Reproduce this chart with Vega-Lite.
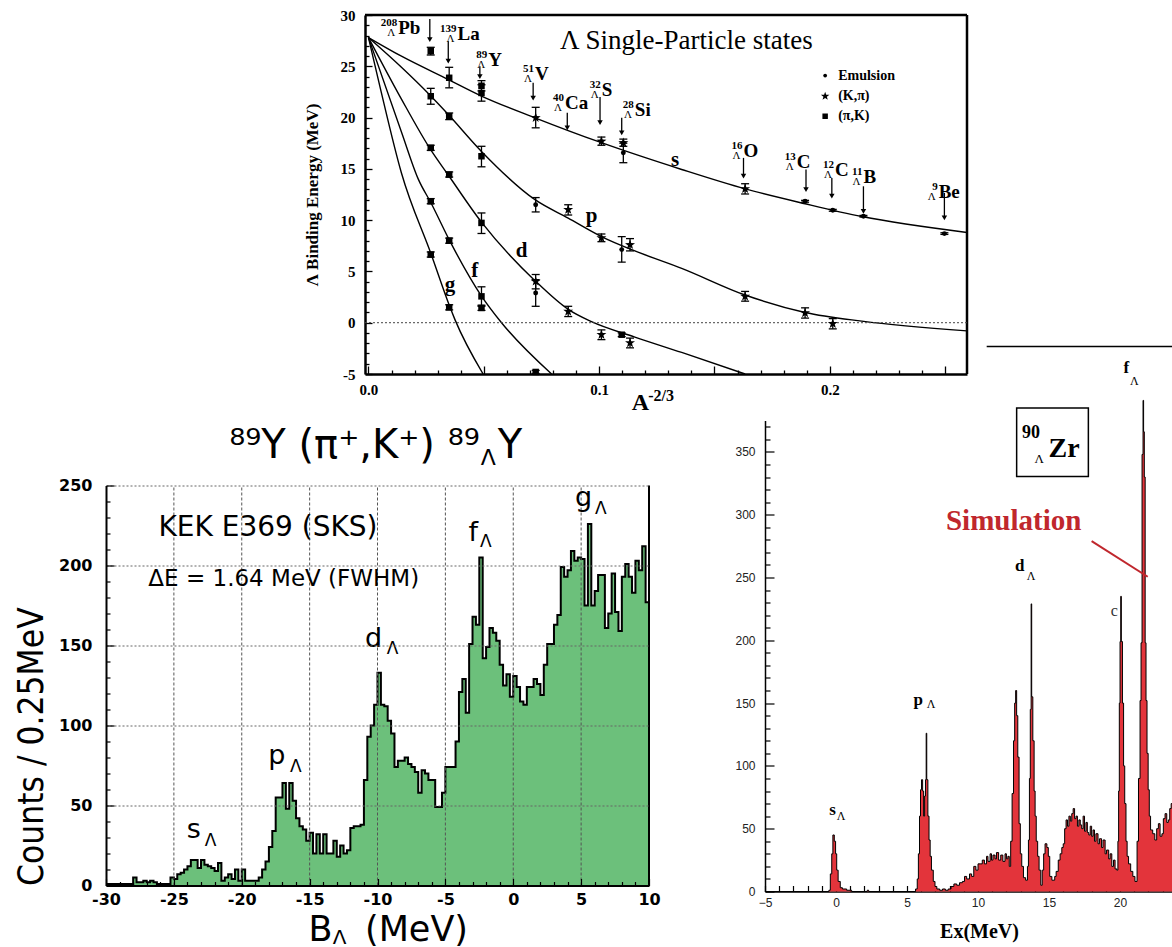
{
"$schema": "https://vega.github.io/schema/vega-lite/v6.json",
"background": "white",
"padding": {"left": 14, "top": 8, "right": 0, "bottom": 0},
"bounds": "flush",
"align": "each",
"columns": 2,
"spacing": {"row": 46.5, "column": 116},
"datasets": {
"curves": [
{"c":"s","x":0,"y":27.8},{"c":"s","x":0.0143,"y":25.98},{"c":"s","x":0.0346,"y":23.71},{"c":"s","x":0.049,"y":22.1},{"c":"s","x":0.0722,"y":19.98},{"c":"s","x":0.101,"y":17.55},{"c":"s","x":0.1358,"y":14.94},{"c":"s","x":0.1633,"y":13.05},{"c":"s","x":0.1893,"y":11.6},{"c":"s","x":0.2139,"y":10.35},{"c":"s","x":0.2595,"y":8.8},
{"c":"p","x":0,"y":27.8},{"c":"p","x":0.0143,"y":24.9},{"c":"p","x":0.0266,"y":22.2},{"c":"p","x":0.0346,"y":20.3},{"c":"p","x":0.049,"y":16.7},{"c":"p","x":0.0722,"y":12.0},{"c":"p","x":0.0866,"y":10.2},{"c":"p","x":0.101,"y":8.4},{"c":"p","x":0.1155,"y":7.0},{"c":"p","x":0.1358,"y":5.3},{"c":"p","x":0.1633,"y":2.7},{"c":"p","x":0.1893,"y":1.0},{"c":"p","x":0.2139,"y":0.15},{"c":"p","x":0.2595,"y":-0.8},
{"c":"d","x":0,"y":27.8},{"c":"d","x":0.0143,"y":21.8},{"c":"d","x":0.0266,"y":17.0},{"c":"d","x":0.0346,"y":14.4},{"c":"d","x":0.049,"y":9.8},{"c":"d","x":0.0722,"y":4.1},{"c":"d","x":0.0866,"y":1.3},{"c":"d","x":0.0967,"y":0.1},{"c":"d","x":0.1155,"y":-1.4},{"c":"d","x":0.1358,"y":-2.9},{"c":"d","x":0.1633,"y":-5.0},
{"c":"f","x":0,"y":27.8},{"c":"f","x":0.0143,"y":18.6},{"c":"f","x":0.0216,"y":14.0},{"c":"f","x":0.0273,"y":11.6},{"c":"f","x":0.0352,"y":8.0},{"c":"f","x":0.049,"y":2.6},{"c":"f","x":0.0577,"y":0},{"c":"f","x":0.0794,"y":-5.0},
{"c":"g","x":0,"y":27.8},{"c":"g","x":0.005,"y":23.0},{"c":"g","x":0.0143,"y":14.6},{"c":"g","x":0.0273,"y":6.6},{"c":"g","x":0.0352,"y":1.6},{"c":"g","x":0.0375,"y":0.3},{"c":"g","x":0.0497,"y":-5.0}
],
"pts": [
{"x":0.027,"y":26.47,"lo":26.1,"hi":26.85,"t":"PK"},{"x":0.027,"y":22.08,"lo":21.3,"hi":22.85,"t":"PK"},{"x":0.027,"y":17.05,"lo":16.8,"hi":17.3,"t":"PK"},{"x":0.027,"y":11.84,"lo":11.6,"hi":12.1,"t":"PK"},{"x":0.027,"y":6.64,"lo":6.4,"hi":6.9,"t":"PK"},
{"x":0.035,"y":23.88,"lo":22.9,"hi":24.9,"t":"PK"},{"x":0.035,"y":20.13,"lo":19.8,"hi":20.45,"t":"PK"},{"x":0.035,"y":14.44,"lo":14.2,"hi":14.7,"t":"PK"},{"x":0.035,"y":8.0,"lo":7.75,"hi":8.25,"t":"PK"},{"x":0.035,"y":1.5,"lo":1.25,"hi":1.75,"t":"PK"},
{"x":0.049,"y":23.1,"lo":22.6,"hi":23.6,"t":"PK"},{"x":0.049,"y":22.4,"lo":21.6,"hi":23.2,"t":"PK"},{"x":0.049,"y":16.23,"lo":15.2,"hi":17.2,"t":"PK"},{"x":0.049,"y":9.73,"lo":8.7,"hi":10.7,"t":"PK"},{"x":0.049,"y":2.57,"lo":1.6,"hi":3.5,"t":"PK"},{"x":0.049,"y":1.44,"lo":1.2,"hi":1.7,"t":"PK"},
{"x":0.0725,"y":19.98,"lo":19.0,"hi":21.0,"t":"KP"},{"x":0.0725,"y":11.5,"lo":10.8,"hi":12.2,"t":"E"},{"x":0.0725,"y":4.03,"lo":3.3,"hi":4.7,"t":"KP"},{"x":0.0725,"y":2.9,"lo":1.6,"hi":4.2,"t":"E"},{"x":0.0725,"y":-4.8,"lo":-4.95,"hi":-4.65,"t":"PK"},
{"x":0.0866,"y":11.03,"lo":10.5,"hi":11.5,"t":"KP"},{"x":0.0866,"y":1.1,"lo":0.6,"hi":1.6,"t":"KP"},
{"x":0.101,"y":17.69,"lo":17.3,"hi":18.1,"t":"KP"},{"x":0.101,"y":8.27,"lo":7.9,"hi":8.65,"t":"KP"},{"x":0.101,"y":-1.17,"lo":-1.65,"hi":-0.7,"t":"KP"},
{"x":0.1105,"y":17.54,"lo":17.2,"hi":17.9,"t":"KP"},{"x":0.1105,"y":16.56,"lo":15.6,"hi":17.5,"t":"E"},{"x":0.1098,"y":7.13,"lo":5.9,"hi":8.4,"t":"E"},{"x":0.1134,"y":7.6,"lo":7.0,"hi":8.2,"t":"KP"},{"x":0.1098,"y":-1.17,"lo":-1.35,"hi":-1.0,"t":"PK"},{"x":0.1134,"y":-1.97,"lo":-2.45,"hi":-1.5,"t":"KP"},
{"x":0.1633,"y":13.05,"lo":12.55,"hi":13.55,"t":"KP"},{"x":0.1633,"y":2.57,"lo":2.1,"hi":3.05,"t":"KP"},
{"x":0.1893,"y":11.84,"lo":11.75,"hi":11.93,"t":"E"},{"x":0.1893,"y":0.95,"lo":0.45,"hi":1.45,"t":"KP"},
{"x":0.2013,"y":10.96,"lo":10.87,"hi":11.05,"t":"E"},{"x":0.2013,"y":-0.09,"lo":-0.6,"hi":0.4,"t":"KP"},
{"x":0.2146,"y":10.38,"lo":10.3,"hi":10.46,"t":"E"},{"x":0.2497,"y":8.69,"lo":8.61,"hi":8.77,"t":"E"}
],
"leg": [
{"x":0.198,"y":24.1,"t":"E","l":"Emulsion"},{"x":0.198,"y":22.08,"t":"KP","l":"(K,π)"},{"x":0.198,"y":20.13,"t":"PK","l":"(π,K)"}
],
"nuc": [
{"a":"208","el":"Pb","x":0.0129,"y":28.1},{"a":"139","el":"La","x":0.0386,"y":27.6},{"a":"89","el":"Y","x":0.0519,"y":25.0},{"a":"51","el":"V","x":0.0722,"y":23.7},{"a":"40","el":"Ca","x":0.0852,"y":20.8},{"a":"32","el":"S","x":0.1011,"y":22.1},{"a":"28","el":"Si","x":0.1155,"y":20.13},{"a":"16","el":"O","x":0.1626,"y":16.2},{"a":"13","el":"C","x":0.1857,"y":15.1},{"a":"12","el":"C","x":0.2023,"y":14.28},{"a":"11","el":"B","x":0.2146,"y":13.63},{"a":"9","el":"Be","x":0.2472,"y":12.2}
],
"arr": [
{"x":0.0266,"y1":29.6,"y2":27.6},{"x":0.0346,"y1":27.45,"y2":25.5},{"x":0.0483,"y1":25.0,"y2":24.0},{"x":0.0714,"y1":23.4,"y2":21.9},{"x":0.0862,"y1":20.46,"y2":19.0},{"x":0.1004,"y1":22.0,"y2":19.5},{"x":0.1098,"y1":19.98,"y2":18.5},{"x":0.1626,"y1":16.07,"y2":14.28},{"x":0.1897,"y1":14.93,"y2":12.98},{"x":0.2009,"y1":14.12,"y2":12.33},{"x":0.2146,"y1":13.3,"y2":10.86},{"x":0.2497,"y1":12.66,"y2":10.22}
],
"frame": [
{"x":-0.0015,"x2":0.2595,"y":30,"y2":30},{"x":0.2595,"x2":0.2595,"y":-5,"y2":30}
],
"bl": [
{"b":-30,"n":1},{"b":-29.75,"n":1},{"b":-29.5,"n":1},{"b":-29.25,"n":1},{"b":-29,"n":1},{"b":-28.75,"n":1},{"b":-28.5,"n":1},{"b":-28.25,"n":1},{"b":-28,"n":5},{"b":-27.75,"n":2},{"b":-27.5,"n":2},{"b":-27.25,"n":3},{"b":-27,"n":2},{"b":-26.75,"n":3},{"b":-26.5,"n":2},{"b":-26.25,"n":1},{"b":-26,"n":1},{"b":-25.75,"n":1},{"b":-25.5,"n":1},{"b":-25.25,"n":5},
{"b":-25,"n":4},{"b":-24.75,"n":7},{"b":-24.5,"n":8},{"b":-24.25,"n":10},{"b":-24,"n":12},{"b":-23.75,"n":16},{"b":-23.5,"n":16},{"b":-23.25,"n":11},{"b":-23,"n":16},{"b":-22.75,"n":13},{"b":-22.5,"n":12},{"b":-22.25,"n":11},{"b":-22,"n":9},{"b":-21.75,"n":14},{"b":-21.5,"n":3},{"b":-21.25,"n":5},{"b":-21,"n":7},{"b":-20.75,"n":4},{"b":-20.5,"n":10},{"b":-20.25,"n":3},
{"b":-20,"n":10},{"b":-19.75,"n":3},{"b":-19.5,"n":3},{"b":-19.25,"n":3},{"b":-19,"n":3},{"b":-18.75,"n":5},{"b":-18.5,"n":10},{"b":-18.25,"n":15},{"b":-18,"n":24},{"b":-17.75,"n":34},{"b":-17.5,"n":55},{"b":-17.25,"n":55},{"b":-17,"n":64},{"b":-16.75,"n":48},{"b":-16.5,"n":64},{"b":-16.25,"n":53},{"b":-16,"n":42},{"b":-15.75,"n":37},{"b":-15.5,"n":35},{"b":-15.25,"n":28},
{"b":-15,"n":33},{"b":-14.75,"n":20},{"b":-14.5,"n":32},{"b":-14.25,"n":20},{"b":-14,"n":32},{"b":-13.75,"n":20},{"b":-13.5,"n":20},{"b":-13.25,"n":28},{"b":-13,"n":18},{"b":-12.75,"n":25},{"b":-12.5,"n":20},{"b":-12.25,"n":22},{"b":-12,"n":36},{"b":-11.75,"n":37},{"b":-11.5,"n":37},{"b":-11.25,"n":38},{"b":-11,"n":66},{"b":-10.75,"n":93},{"b":-10.5,"n":100},{"b":-10.25,"n":113},
{"b":-10,"n":133},{"b":-9.75,"n":113},{"b":-9.5,"n":112},{"b":-9.25,"n":103},{"b":-9,"n":95},{"b":-8.75,"n":74},{"b":-8.5,"n":78},{"b":-8.25,"n":78},{"b":-8,"n":80},{"b":-7.75,"n":76},{"b":-7.5,"n":74},{"b":-7.25,"n":71},{"b":-7,"n":58},{"b":-6.75,"n":72},{"b":-6.5,"n":70},{"b":-6.25,"n":66},{"b":-6,"n":66},{"b":-5.75,"n":49},{"b":-5.5,"n":49},{"b":-5.25,"n":58},
{"b":-5,"n":74},{"b":-4.75,"n":74},{"b":-4.5,"n":74},{"b":-4.25,"n":90},{"b":-4,"n":121},{"b":-3.75,"n":129},{"b":-3.5,"n":108},{"b":-3.25,"n":151},{"b":-3,"n":168},{"b":-2.75,"n":163},{"b":-2.5,"n":205},{"b":-2.25,"n":142},{"b":-2,"n":149},{"b":-1.75,"n":161},{"b":-1.5,"n":158},{"b":-1.25,"n":153},{"b":-1,"n":138},{"b":-0.75,"n":125},{"b":-0.5,"n":132},{"b":-0.25,"n":118},
{"b":0,"n":131},{"b":0.25,"n":124},{"b":0.5,"n":115},{"b":0.75,"n":113},{"b":1,"n":124},{"b":1.25,"n":124},{"b":1.5,"n":129},{"b":1.75,"n":126},{"b":2,"n":119},{"b":2.25,"n":138},{"b":2.5,"n":151},{"b":2.75,"n":151},{"b":3,"n":163},{"b":3.25,"n":169},{"b":3.5,"n":199},{"b":3.75,"n":193},{"b":4,"n":197},{"b":4.25,"n":209},{"b":4.5,"n":203},{"b":4.75,"n":205},
{"b":5,"n":204},{"b":5.25,"n":175},{"b":5.5,"n":226},{"b":5.75,"n":175},{"b":6,"n":184},{"b":6.25,"n":194},{"b":6.5,"n":194},{"b":6.75,"n":161},{"b":7,"n":170},{"b":7.25,"n":195},{"b":7.5,"n":171},{"b":7.75,"n":159},{"b":8,"n":193},{"b":8.25,"n":201},{"b":8.5,"n":193},{"b":8.75,"n":183},{"b":9,"n":203},{"b":9.25,"n":197},{"b":9.5,"n":212},{"b":9.75,"n":177},{"b":10,"n":177}
],
"br": [
{"e":-5,"c":0},{"e":-0.5,"c":1},{"e":-0.4,"c":14},{"e":-0.3,"c":30},{"e":-0.22,"c":45},{"e":-0.12,"c":40},{"e":-0.03,"c":30},{"e":0.05,"c":17},{"e":0.15,"c":8},{"e":0.3,"c":3},{"e":0.45,"c":2},{"e":0.75,"c":1},{"e":1.1,"c":0},{"e":2.2,"c":1},{"e":2.3,"c":0},
{"e":5.6,"c":2},{"e":5.72,"c":10},{"e":5.8,"c":30},{"e":5.88,"c":60},{"e":5.95,"c":81},{"e":6.02,"c":89},{"e":6.1,"c":80},{"e":6.17,"c":60},{"e":6.24,"c":76},{"e":6.3,"c":89},{"e":6.35,"c":126},{"e":6.39,"c":89},{"e":6.47,"c":60},{"e":6.55,"c":41},{"e":6.63,"c":28},{"e":6.72,"c":17},{"e":6.85,"c":8},{"e":6.97,"c":4},
{"e":7.1,"c":2},{"e":7.3,"c":1},{"e":7.5,"c":2},{"e":7.7,"c":1},{"e":7.9,"c":2},{"e":8.1,"c":4},{"e":8.3,"c":6},{"e":8.5,"c":5},{"e":8.7,"c":7},{"e":8.9,"c":8},{"e":9.05,"c":12},{"e":9.2,"c":10},{"e":9.4,"c":14},{"e":9.55,"c":12},{"e":9.7,"c":20},{"e":9.85,"c":17},
{"e":10.0,"c":22},{"e":10.15,"c":22},{"e":10.3,"c":25},{"e":10.45,"c":22},{"e":10.6,"c":28},{"e":10.7,"c":24},{"e":10.85,"c":30},{"e":10.95,"c":25},{"e":11.05,"c":29},{"e":11.2,"c":26},{"e":11.3,"c":31},{"e":11.45,"c":25},{"e":11.6,"c":29},{"e":11.75,"c":24},{"e":11.9,"c":30},{"e":12.0,"c":26},{"e":12.1,"c":28},{"e":12.2,"c":20},
{"e":12.3,"c":40},{"e":12.4,"c":78},{"e":12.5,"c":120},{"e":12.58,"c":150},{"e":12.65,"c":160},{"e":12.72,"c":140},{"e":12.8,"c":107},{"e":12.89,"c":54},{"e":12.98,"c":30},{"e":13.08,"c":20},{"e":13.2,"c":11},{"e":13.35,"c":9},{"e":13.48,"c":20},{"e":13.55,"c":41},{"e":13.62,"c":90},{"e":13.68,"c":145},{"e":13.74,"c":229},{"e":13.78,"c":155},{"e":13.86,"c":120},{"e":13.95,"c":80},
{"e":14.02,"c":60},{"e":14.1,"c":40},{"e":14.2,"c":28},{"e":14.3,"c":17},{"e":14.42,"c":5},{"e":14.52,"c":17},{"e":14.62,"c":30},{"e":14.72,"c":38},{"e":14.85,"c":35},{"e":14.95,"c":28},{"e":15.05,"c":12},{"e":15.2,"c":9},{"e":15.4,"c":12},{"e":15.5,"c":16},{"e":15.65,"c":25},{"e":15.78,"c":30},{"e":15.9,"c":35},
{"e":16.0,"c":38},{"e":16.1,"c":50},{"e":16.2,"c":57},{"e":16.3,"c":52},{"e":16.4,"c":60},{"e":16.5,"c":56},{"e":16.6,"c":62},{"e":16.7,"c":66},{"e":16.8,"c":58},{"e":16.9,"c":60},{"e":17.0,"c":52},{"e":17.1,"c":57},{"e":17.2,"c":53},{"e":17.3,"c":50},{"e":17.4,"c":60},{"e":17.5,"c":48},{"e":17.6,"c":55},{"e":17.7,"c":47},{"e":17.8,"c":45},{"e":17.9,"c":52},
{"e":18.0,"c":44},{"e":18.1,"c":49},{"e":18.2,"c":40},{"e":18.3,"c":46},{"e":18.45,"c":38},{"e":18.55,"c":42},{"e":18.7,"c":35},{"e":18.8,"c":41},{"e":18.95,"c":30},{"e":19.05,"c":33},{"e":19.2,"c":26},{"e":19.3,"c":30},{"e":19.42,"c":20},{"e":19.54,"c":25},{"e":19.65,"c":18},{"e":19.77,"c":17},{"e":19.85,"c":40},{"e":19.9,"c":80},{"e":19.95,"c":150},
{"e":20.0,"c":199},{"e":20.05,"c":235},{"e":20.09,"c":199},{"e":20.17,"c":150},{"e":20.25,"c":100},{"e":20.33,"c":70},{"e":20.42,"c":40},{"e":20.5,"c":28},{"e":20.6,"c":22},{"e":20.75,"c":16},{"e":20.9,"c":12},{"e":21.05,"c":8},{"e":21.2,"c":40},{"e":21.3,"c":90},{"e":21.41,"c":152},{"e":21.48,"c":198},{"e":21.55,"c":348},{"e":21.62,"c":391},{"e":21.66,"c":366},{"e":21.71,"c":330},{"e":21.77,"c":198},{"e":21.83,"c":152},{"e":21.9,"c":110},{"e":21.98,"c":81},
{"e":22.06,"c":60},{"e":22.15,"c":49},{"e":22.3,"c":46},{"e":22.45,"c":41},{"e":22.58,"c":50},{"e":22.7,"c":54},{"e":22.82,"c":44},{"e":22.95,"c":46},{"e":23.05,"c":58},{"e":23.17,"c":62},{"e":23.29,"c":55},{"e":23.4,"c":57},{"e":23.5,"c":66},{"e":23.6,"c":70},{"e":23.7,"c":81},{"e":23.8,"c":81}
]
},
"concat": [
 {"width": 543, "height": 359,
  "layer": [
   {"data": {"name": "curves"},
    "mark": {"type": "line", "interpolate": "monotone", "color": "black", "strokeWidth": 1.4},
    "encoding": {
     "x": {"field": "x", "type": "quantitative", "scale": {"domain": [-0.0015, 0.2595], "range": [259, 861], "nice": false, "zero": false},
      "axis": {"values": [0,0.01,0.02,0.03,0.04,0.05,0.06,0.07,0.08,0.09,0.1,0.11,0.12,0.13,0.14,0.15,0.16,0.17,0.18,0.19,0.2,0.21,0.22,0.23,0.24,0.25],
       "tickCount": 1000,
       "labelExpr": "abs(datum.value*10 - round(datum.value*10)) < 1e-6 ? format(datum.value, '.1f') : ''",
       "tickSize": {"condition": {"test": "abs(datum.value*20 - round(datum.value*20)) < 1e-6", "value": -8}, "value": -4},
       "labelPadding": 16, "labelFont": "Liberation Serif", "labelFontWeight": "bold", "labelFontSize": 15, "labelColor": "black", "labelOverlap": false, "labelFlush": false,
       "domain": true, "domainColor": "black", "domainWidth": 2.5, "grid": false, "title": null, "tickColor": "black", "tickWidth": 1.3}},
     "y": {"field": "y", "type": "quantitative", "scale": {"domain": [-5, 30], "nice": false, "zero": false},
      "axis": {"values": [-5,-4,-3,-2,-1,0,1,2,3,4,5,6,7,8,9,10,11,12,13,14,15,16,17,18,19,20,21,22,23,24,25,26,27,28,29,30],
       "tickCount": 1000, "offset": -259, "minExtent": 0,
       "labelExpr": "datum.value % 5 === 0 ? '' + datum.value : ''",
       "tickSize": {"condition": {"test": "datum.value % 5 === 0", "value": -7}, "value": -4},
       "labelPadding": 17, "labelFont": "Liberation Serif", "labelFontWeight": "bold", "labelFontSize": 15, "labelColor": "black", "labelOverlap": false, "labelFlush": false,
       "domain": true, "domainColor": "black", "domainWidth": 2.5, "grid": false, "tickColor": "black", "tickWidth": 1.3,
       "title": "Λ Binding Energy (MeV)", "titleFont": "Liberation Serif", "titleFontWeight": "bold", "titleFontSize": 17, "titleColor": "black", "titlePadding": 19}},
     "detail": {"field": "c", "type": "nominal"}
    }},
   {"data": {"name": "frame"}, "mark": {"type": "rule", "color": "black", "strokeWidth": 2.5},
    "encoding": {"x": {"field": "x", "type": "quantitative"}, "x2": {"field": "x2"}, "y": {"field": "y", "type": "quantitative"}, "y2": {"field": "y2"}}},
   {"data": {"values": [{"x": -0.0015, "x2": 0.2595, "y": 0}]}, "mark": {"type": "rule", "strokeDash": [2, 2], "color": "#444", "strokeWidth": 1},
    "encoding": {"x": {"field": "x", "type": "quantitative"}, "x2": {"field": "x2"}, "y": {"field": "y", "type": "quantitative"}}},
   {"data": {"name": "pts"}, "mark": {"type": "rule", "color": "black", "strokeWidth": 1.3},
    "encoding": {"x": {"field": "x", "type": "quantitative"}, "y": {"field": "lo", "type": "quantitative"}, "y2": {"field": "hi"}}},
   {"data": {"name": "pts"}, "mark": {"type": "tick", "orient": "horizontal", "size": 8, "thickness": 1.3, "color": "black", "opacity": 1},
    "encoding": {"x": {"field": "x", "type": "quantitative"}, "y": {"field": "lo", "type": "quantitative"}}},
   {"data": {"name": "pts"}, "mark": {"type": "tick", "orient": "horizontal", "size": 8, "thickness": 1.3, "color": "black", "opacity": 1},
    "encoding": {"x": {"field": "x", "type": "quantitative"}, "y": {"field": "hi", "type": "quantitative"}}},
   {"data": {"name": "pts"}, "transform": [{"filter": "datum.t === 'PK'"}], "mark": {"type": "point", "shape": "square", "size": 42, "filled": true, "color": "black", "opacity": 1},
    "encoding": {"x": {"field": "x", "type": "quantitative"}, "y": {"field": "y", "type": "quantitative"}}},
   {"data": {"name": "pts"}, "transform": [{"filter": "datum.t === 'KP'"}], "mark": {"type": "point", "shape": "M0,-1L0.235,-0.324L0.951,-0.309L0.38,0.124L0.588,0.809L0,0.4L-0.588,0.809L-0.38,0.124L-0.951,-0.309L-0.235,-0.324Z", "size": 110, "filled": true, "color": "black", "opacity": 1},
    "encoding": {"x": {"field": "x", "type": "quantitative"}, "y": {"field": "y", "type": "quantitative"}}},
   {"data": {"name": "pts"}, "transform": [{"filter": "datum.t === 'E'"}], "mark": {"type": "point", "shape": "circle", "size": 24, "filled": true, "color": "black", "opacity": 1},
    "encoding": {"x": {"field": "x", "type": "quantitative"}, "y": {"field": "y", "type": "quantitative"}}},
   {"data": {"name": "leg"}, "transform": [{"filter": "datum.t === 'PK'"}], "mark": {"type": "point", "shape": "square", "size": 30, "filled": true, "color": "black", "opacity": 1},
    "encoding": {"x": {"field": "x", "type": "quantitative"}, "y": {"field": "y", "type": "quantitative"}}},
   {"data": {"name": "leg"}, "transform": [{"filter": "datum.t === 'KP'"}], "mark": {"type": "point", "shape": "M0,-1L0.235,-0.324L0.951,-0.309L0.38,0.124L0.588,0.809L0,0.4L-0.588,0.809L-0.38,0.124L-0.951,-0.309L-0.235,-0.324Z", "size": 80, "filled": true, "color": "black", "opacity": 1},
    "encoding": {"x": {"field": "x", "type": "quantitative"}, "y": {"field": "y", "type": "quantitative"}}},
   {"data": {"name": "leg"}, "transform": [{"filter": "datum.t === 'E'"}], "mark": {"type": "point", "shape": "circle", "size": 14, "filled": true, "color": "black", "opacity": 1},
    "encoding": {"x": {"field": "x", "type": "quantitative"}, "y": {"field": "y", "type": "quantitative"}}},
   {"data": {"name": "leg"},
    "mark": {"type": "text", "align": "left", "baseline": "middle", "dx": 13, "font": "Liberation Serif", "fontWeight": "bold", "fontSize": 14, "color": "black"},
    "encoding": {"x": {"field": "x", "type": "quantitative"}, "y": {"field": "y", "type": "quantitative"}, "text": {"field": "l"}}},
   {"data": {"name": "arr"}, "mark": {"type": "rule", "color": "black", "strokeWidth": 1.3},
    "encoding": {"x": {"field": "x", "type": "quantitative"}, "y": {"field": "y1", "type": "quantitative"}, "y2": {"field": "y2"}}},
   {"data": {"name": "arr"}, "mark": {"type": "point", "shape": "triangle-down", "size": 30, "filled": true, "color": "black", "opacity": 1},
    "encoding": {"x": {"field": "x", "type": "quantitative"}, "y": {"field": "y2", "type": "quantitative"}}},
   {"data": {"name": "nuc"}, "mark": {"type": "text", "align": "left", "baseline": "alphabetic", "font": "Liberation Serif", "fontWeight": "bold", "fontSize": 19, "color": "black"},
    "encoding": {"x": {"field": "x", "type": "quantitative"}, "y": {"field": "y", "type": "quantitative"}, "text": {"field": "el"}}},
   {"data": {"name": "nuc"}, "mark": {"type": "text", "align": "right", "baseline": "alphabetic", "dx": -1, "dy": -8, "font": "Liberation Serif", "fontWeight": "bold", "fontSize": 11, "color": "black"},
    "encoding": {"x": {"field": "x", "type": "quantitative"}, "y": {"field": "y", "type": "quantitative"}, "text": {"field": "a"}}},
   {"data": {"name": "nuc"}, "mark": {"type": "text", "text": "Λ", "align": "right", "baseline": "alphabetic", "dx": -3, "dy": 2, "font": "Liberation Serif", "fontSize": 11, "color": "black"},
    "encoding": {"x": {"field": "x", "type": "quantitative"}, "y": {"field": "y", "type": "quantitative"}}},
   {"data": {"values": [{"x": 0.1329, "y": 15.9, "t": "s"}, {"x": 0.0967, "y": 10.4, "t": "p"}, {"x": 0.0664, "y": 6.96, "t": "d"}, {"x": 0.0461, "y": 5.0, "t": "f"}, {"x": 0.0353, "y": 3.7, "t": "g"}]},
    "mark": {"type": "text", "align": "center", "baseline": "middle", "font": "Liberation Serif", "fontWeight": "bold", "fontSize": 21, "color": "black"},
    "encoding": {"x": {"field": "x", "type": "quantitative"}, "y": {"field": "y", "type": "quantitative"}, "text": {"field": "t"}}},
   {"data": {"values": [{"x": 0.083, "y": 26.64, "t": "Λ Single-Particle states"}]},
    "mark": {"type": "text", "align": "left", "baseline": "alphabetic", "font": "Liberation Serif", "fontSize": 27, "color": "black"},
    "encoding": {"x": {"field": "x", "type": "quantitative"}, "y": {"field": "y", "type": "quantitative"}, "text": {"field": "t"}}},
   {"data": {"values": [{"x": 0.1141, "y": -8.48, "t": "A"}]},
    "mark": {"type": "text", "align": "left", "baseline": "alphabetic", "font": "Liberation Serif", "fontWeight": "bold", "fontSize": 24, "color": "black"},
    "encoding": {"x": {"field": "x", "type": "quantitative"}, "y": {"field": "y", "type": "quantitative"}, "text": {"field": "t"}}},
   {"data": {"values": [{"x": 0.1213, "y": -7.65, "t": "-2/3"}]},
    "mark": {"type": "text", "align": "left", "baseline": "alphabetic", "font": "Liberation Serif", "fontWeight": "bold", "fontSize": 16, "color": "black"},
    "encoding": {"x": {"field": "x", "type": "quantitative"}, "y": {"field": "y", "type": "quantitative"}, "text": {"field": "t"}}}
  ]},
 {"width": 10, "height": 10, "data": {"values": [{"a": 1}]}, "mark": {"type": "point", "opacity": 0}, "encoding": {}},
 {"width": 543, "height": 465,
  "layer": [
   {"data": {"name": "bl"}, "mark": {"type": "area", "interpolate": "step-after", "color": "#6cc07b", "opacity": 1},
    "encoding": {
     "x": {"field": "b", "type": "quantitative", "scale": {"domain": [-30, 10], "nice": false, "zero": false},
      "axis": {"values": [-30,-29,-28,-27,-26,-25,-24,-23,-22,-21,-20,-19,-18,-17,-16,-15,-14,-13,-12,-11,-10,-9,-8,-7,-6,-5,-4,-3,-2,-1,0,1,2,3,4,5,6,7,8,9,10],
       "tickCount": 1000,
       "labelExpr": "datum.value % 5 === 0 ? '' + datum.value : ''",
       "tickSize": {"condition": {"test": "datum.value % 5 === 0", "value": -7}, "value": -4},
       "labelPadding": 13, "labelFont": "DejaVu Sans", "labelFontWeight": "bold", "labelFontSize": 16, "labelColor": "black", "labelOverlap": false, "labelFlush": false,
       "domainColor": "black", "domainWidth": 2, "tickColor": "black", "tickWidth": 1.2,
       "grid": false, "title": null, "zindex": 1}},
     "y": {"field": "n", "type": "quantitative", "scale": {"domain": [0, 250], "range": [465, 65], "nice": false, "zero": false},
      "axis": {"values": [0,10,20,30,40,50,60,70,80,90,100,110,120,130,140,150,160,170,180,190,200,210,220,230,240,250],
       "tickCount": 1000, "minExtent": 0,
       "labelExpr": "datum.value % 50 === 0 ? '' + datum.value : ''",
       "tickSize": {"condition": {"test": "datum.value % 50 === 0", "value": -8}, "value": -4},
       "labelPadding": 22, "labelFont": "DejaVu Sans", "labelFontWeight": "bold", "labelFontSize": 16, "labelColor": "black", "labelOverlap": false, "labelFlush": false,
       "domainColor": "black", "domainWidth": 2, "tickColor": "black", "tickWidth": 1.2,
       "grid": true, "gridColor": "#666", "gridDash": [2, 2], "gridWidth": 1,
       "gridOpacity": {"condition": {"test": "datum.value % 50 === 0 && datum.value > 0", "value": 1}, "value": 0},
       "title": "Counts / 0.25MeV", "titleFont": "DejaVu Sans Condensed, Liberation Sans Narrow, DejaVu Sans", "titleFontWeight": "normal", "titleFontSize": 35, "titleColor": "black", "titlePadding": 9, "titleAnchor": "start", "zindex": 1}}
    }},
   {"data": {"name": "bl"}, "mark": {"type": "line", "interpolate": "step-after", "color": "black", "strokeWidth": 2},
    "encoding": {"x": {"field": "b", "type": "quantitative"}, "y": {"field": "n", "type": "quantitative"}}},
   {"data": {"values": [{"x": -25, "y": 0, "y2": 250}, {"x": -20, "y": 0, "y2": 250}, {"x": -15, "y": 0, "y2": 250}, {"x": -10, "y": 0, "y2": 250}, {"x": -5, "y": 0, "y2": 250}, {"x": 0, "y": 0, "y2": 250}, {"x": 5, "y": 0, "y2": 250}]},
    "mark": {"type": "rule", "color": "#555", "strokeWidth": 1, "strokeDash": [3, 2], "opacity": 1},
    "encoding": {"x": {"field": "x", "type": "quantitative"}, "y": {"field": "y", "type": "quantitative"}, "y2": {"field": "y2"}}},
   {"data": {"values": [{"x": 10, "y": 0, "y2": 250}]}, "mark": {"type": "rule", "color": "black", "strokeWidth": 2},
    "encoding": {"x": {"field": "x", "type": "quantitative"}, "y": {"field": "y", "type": "quantitative"}, "y2": {"field": "y2"}}},
   {"data": {"values": [{"x": -26.14, "y": 218.75, "t": "KEK E369 (SKS)"}]},
    "mark": {"type": "text", "align": "left", "baseline": "alphabetic", "font": "DejaVu Sans", "fontSize": 28, "color": "black"},
    "encoding": {"x": {"field": "x", "type": "quantitative"}, "y": {"field": "y", "type": "quantitative"}, "text": {"field": "t"}}},
   {"data": {"values": [{"x": -26.88, "y": 187.5, "t": "ΔE = 1.64 MeV (FWHM)"}]},
    "mark": {"type": "text", "align": "left", "baseline": "alphabetic", "font": "DejaVu Sans", "fontSize": 23, "color": "black"},
    "encoding": {"x": {"field": "x", "type": "quantitative"}, "y": {"field": "y", "type": "quantitative"}, "text": {"field": "t"}}},
   {"data": {"values": [{"x": -24.06, "y": 29.4, "t": "s"}, {"x": -18.04, "y": 76, "t": "p"}, {"x": -10.92, "y": 149, "t": "d"}, {"x": -3.3, "y": 215.6, "t": "f"}, {"x": 4.55, "y": 236.9, "t": "g"}]},
    "mark": {"type": "text", "align": "left", "baseline": "alphabetic", "font": "DejaVu Sans", "fontSize": 27, "color": "black"},
    "encoding": {"x": {"field": "x", "type": "quantitative"}, "y": {"field": "y", "type": "quantitative"}, "text": {"field": "t"}}},
   {"data": {"values": [{"x": -22.73, "y": 25}, {"x": -16.45, "y": 70.8}, {"x": -9.32, "y": 144.8}, {"x": -2.45, "y": 211.4}, {"x": 6.02, "y": 232.3}]},
    "mark": {"type": "text", "text": "Λ", "align": "left", "baseline": "alphabetic", "font": "DejaVu Sans", "fontSize": 17, "color": "black"},
    "encoding": {"x": {"field": "x", "type": "quantitative"}, "y": {"field": "y", "type": "quantitative"}}},
   {"data": {"values": [{"x": -2.47, "y": 266.9, "t": "⁸⁹Y (π⁺,K⁺) ⁸⁹"}]},
    "mark": {"type": "text", "align": "right", "baseline": "alphabetic", "font": "DejaVu Sans", "fontSize": 40, "color": "black"},
    "encoding": {"x": {"field": "x", "type": "quantitative"}, "y": {"field": "y", "type": "quantitative"}, "text": {"field": "t"}}},
   {"data": {"values": [{"x": -2.47, "y": 266.9}]},
    "mark": {"type": "text", "text": "Λ", "align": "left", "baseline": "alphabetic", "dx": 1, "dy": 7, "font": "DejaVu Sans", "fontSize": 22, "color": "black"},
    "encoding": {"x": {"field": "x", "type": "quantitative"}, "y": {"field": "y", "type": "quantitative"}}},
   {"data": {"values": [{"x": -2.47, "y": 266.9, "t": "Y"}]},
    "mark": {"type": "text", "align": "left", "baseline": "alphabetic", "dx": 18, "font": "DejaVu Sans", "fontSize": 40, "color": "black"},
    "encoding": {"x": {"field": "x", "type": "quantitative"}, "y": {"field": "y", "type": "quantitative"}, "text": {"field": "t"}}},
   {"data": {"values": [{"x": -15.09, "y": -34.4, "t": "B"}, {"x": -10.92, "y": -34.4, "t": "(MeV)"}]},
    "mark": {"type": "text", "align": "left", "baseline": "alphabetic", "font": "DejaVu Sans", "fontSize": 35, "color": "black"},
    "encoding": {"x": {"field": "x", "type": "quantitative"}, "y": {"field": "y", "type": "quantitative"}, "text": {"field": "t"}}},
   {"data": {"values": [{"x": -13.3, "y": -36.6}]},
    "mark": {"type": "text", "text": "Λ", "align": "left", "baseline": "alphabetic", "font": "DejaVu Sans", "fontSize": 20, "color": "black"},
    "encoding": {"x": {"field": "x", "type": "quantitative"}, "y": {"field": "y", "type": "quantitative"}}}
  ]},
 {"width": 409, "height": 471,
  "layer": [
   {"data": {"name": "br"}, "mark": {"type": "area", "interpolate": "step-after", "color": "#e3343b", "opacity": 1},
    "encoding": {
     "x": {"field": "e", "type": "quantitative", "scale": {"domain": [-5, 23.8], "nice": false, "zero": false},
      "axis": {"values": [-5,-4,-3,-2,-1,0,1,2,3,4,5,6,7,8,9,10,11,12,13,14,15,16,17,18,19,20,21,22,23],
       "tickCount": 1000,
       "labelExpr": "datum.value % 5 === 0 ? (datum.value < 0 ? '−' + abs(datum.value) : '' + datum.value) : ''",
       "tickSize": -6, "labelPadding": 12, "labelFont": "Liberation Sans", "labelFontSize": 12, "labelColor": "#222", "labelOverlap": false, "labelFlush": false,
       "domainColor": "black", "domainWidth": 1.5, "tickColor": "black", "tickWidth": 1.2, "grid": false,
       "title": "Ex(MeV)", "titleFont": "Liberation Serif", "titleFontWeight": "bold", "titleFontSize": 20, "titleColor": "black", "titleX": 214, "titleY": 40, "titleBaseline": "middle"}},
     "y": {"field": "c", "type": "quantitative", "scale": {"domain": [0, 375], "nice": false, "zero": false},
      "axis": {"values": [0,10,20,30,40,50,60,70,80,90,100,110,120,130,140,150,160,170,180,190,200,210,220,230,240,250,260,270,280,290,300,310,320,330,340,350,360,370],
       "tickCount": 1000,
       "labelExpr": "datum.value % 50 === 0 ? '' + datum.value : ''",
       "tickSize": {"condition": {"test": "datum.value % 50 === 0", "value": -9}, "value": -5},
       "labelPadding": 19, "labelFont": "Liberation Sans", "labelFontSize": 12, "labelColor": "#222", "labelOverlap": false, "labelFlush": false,
       "domainColor": "black", "domainWidth": 1.5, "tickColor": "black", "tickWidth": 1.2, "grid": false, "title": null}}
    }},
   {"data": {"name": "br"}, "mark": {"type": "line", "interpolate": "step-after", "color": "black", "strokeWidth": 1},
    "encoding": {"x": {"field": "e", "type": "quantitative"}, "y": {"field": "c", "type": "quantitative"}}},
   {"data": {"values": [{"x": 10.61, "x2": 23.8, "y": 434}]}, "mark": {"type": "rule", "color": "black", "strokeWidth": 1.5},
    "encoding": {"x": {"field": "x", "type": "quantitative"}, "x2": {"field": "x2"}, "y": {"field": "y", "type": "quantitative"}}},
   {"data": {"values": [{"x": 12.72, "x2": 17.77, "y": 330.4, "y2": 384.9}]}, "mark": {"type": "rect", "filled": false, "color": "black", "strokeWidth": 1.5},
    "encoding": {"x": {"field": "x", "type": "quantitative"}, "x2": {"field": "x2"}, "y": {"field": "y", "type": "quantitative"}, "y2": {"field": "y2"}}},
   {"data": {"values": [{"x": 14.96, "y": 346.3, "t": "Zr"}]},
    "mark": {"type": "text", "align": "left", "baseline": "alphabetic", "font": "Liberation Serif", "fontWeight": "bold", "fontSize": 28, "color": "black"},
    "encoding": {"x": {"field": "x", "type": "quantitative"}, "y": {"field": "y", "type": "quantitative"}, "text": {"field": "t"}}},
   {"data": {"values": [{"x": 14.37, "y": 361, "t": "90"}]},
    "mark": {"type": "text", "align": "right", "baseline": "alphabetic", "font": "Liberation Serif", "fontWeight": "bold", "fontSize": 18, "color": "black"},
    "encoding": {"x": {"field": "x", "type": "quantitative"}, "y": {"field": "y", "type": "quantitative"}, "text": {"field": "t"}}},
   {"data": {"values": [{"x": 14.31, "y": 341}]},
    "mark": {"type": "text", "text": "Λ", "align": "center", "baseline": "alphabetic", "font": "Liberation Serif", "fontSize": 13, "color": "black"},
    "encoding": {"x": {"field": "x", "type": "quantitative"}, "y": {"field": "y", "type": "quantitative"}}},
   {"data": {"values": [{"x": -0.47, "y": 61, "t": "s"}, {"x": 5.45, "y": 148.6, "t": "p"}, {"x": 12.6, "y": 254.8, "t": "d"}, {"x": 20.24, "y": 413, "t": "f"}]},
    "mark": {"type": "text", "align": "left", "baseline": "alphabetic", "font": "Liberation Serif", "fontWeight": "bold", "fontSize": 17, "color": "black"},
    "encoding": {"x": {"field": "x", "type": "quantitative"}, "y": {"field": "y", "type": "quantitative"}, "text": {"field": "t"}}},
   {"data": {"values": [{"x": 0.05, "y": 57}, {"x": 6.39, "y": 146}, {"x": 13.43, "y": 248}, {"x": 20.7, "y": 403}]},
    "mark": {"type": "text", "text": "Λ", "align": "left", "baseline": "alphabetic", "font": "Liberation Serif", "fontSize": 12, "color": "black"},
    "encoding": {"x": {"field": "x", "type": "quantitative"}, "y": {"field": "y", "type": "quantitative"}}},
   {"data": {"values": [{"x": 12.51, "y": 295, "t": "Simulation"}]},
    "mark": {"type": "text", "align": "center", "baseline": "middle", "font": "Liberation Serif", "fontWeight": "bold", "fontSize": 29, "color": "#c0272d"},
    "encoding": {"x": {"field": "x", "type": "quantitative"}, "y": {"field": "y", "type": "quantitative"}, "text": {"field": "t"}}},
   {"data": {"values": [{"x": 18.0, "y": 279, "x2": 21.95, "y2": 250.6}]}, "mark": {"type": "rule", "color": "#c0272d", "strokeWidth": 2},
    "encoding": {"x": {"field": "x", "type": "quantitative"}, "y": {"field": "y", "type": "quantitative"}, "x2": {"field": "x2"}, "y2": {"field": "y2"}}},
   {"data": {"values": [{"x": 19.6, "y": 223, "t": "c"}]},
    "mark": {"type": "text", "align": "center", "baseline": "middle", "font": "Liberation Serif", "fontSize": 16, "color": "#333"},
    "encoding": {"x": {"field": "x", "type": "quantitative"}, "y": {"field": "y", "type": "quantitative"}, "text": {"field": "t"}}}
  ]}
],
"config": {"view": {"stroke": null}, "axis": {"labelFlush": false, "labelOverlap": false}}
}
